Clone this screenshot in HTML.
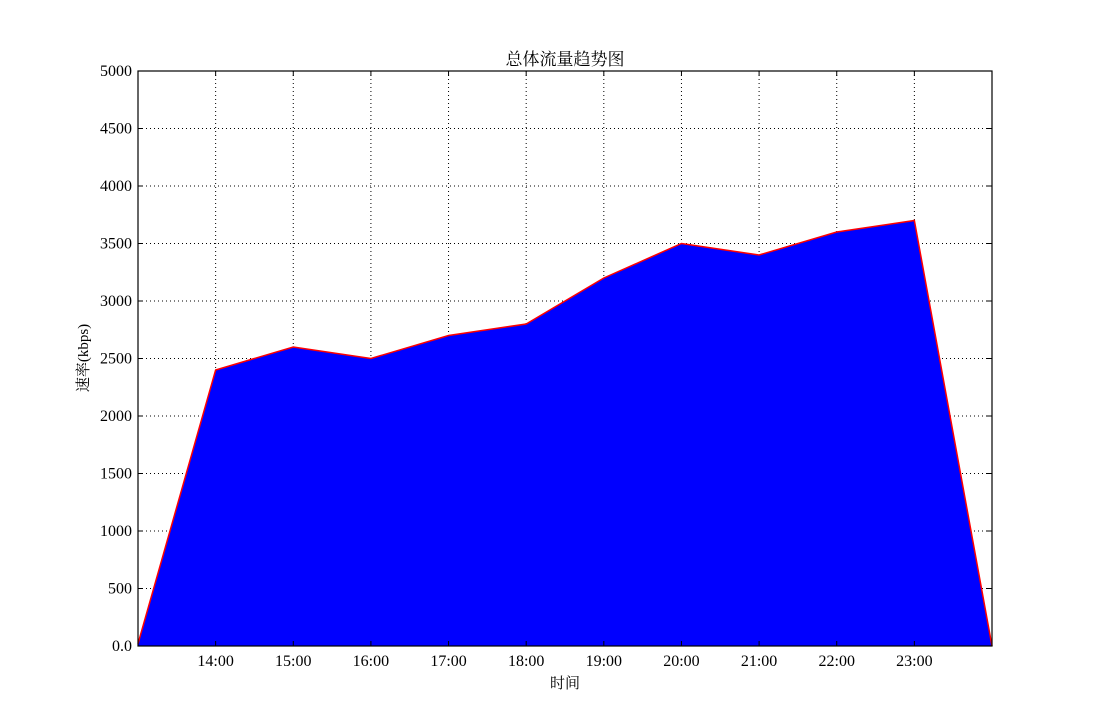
<!DOCTYPE html>
<html><head><meta charset="utf-8"><style>
html,body{margin:0;padding:0;background:#fff;}
svg{display:block;font-family:"Liberation Serif","Noto Serif CJK SC",serif;}
</style></head><body>
<svg id="chart" width="1102" height="718">
<text x="565" y="65" font-size="17" text-anchor="middle">总体流量趋势图</text>
<g id="grid"></g><g id="marks"></g><g id="ticks"></g>
<rect x="138" y="71" width="854" height="575" fill="none" stroke="#000" stroke-width="1.2"/>
<text x="565" y="688" font-size="15" text-anchor="middle">时间</text>
<text transform="translate(88,358) rotate(-90)" font-size="15" text-anchor="middle">速率(kbps)</text>
</svg>
<script>
const hours=[13,14,15,16,17,18,19,20,21,22,23,24];
const rates=[20,2400,2600,2500,2700,2800,3200,3500,3400,3600,3700,0];
const xTickHours=[14,15,16,17,18,19,20,21,22,23];
const xTickLabels=["14:00","15:00","16:00","17:00","18:00","19:00","20:00","21:00","22:00","23:00"];
const yTicks=[0,500,1000,1500,2000,2500,3000,3500,4000,4500,5000];
const yTickLabels=["0.0","500","1000","1500","2000","2500","3000","3500","4000","4500","5000"];
const X0=138,X1=992,Y0=646,Y1=71;
const sx=h=>X0+(h-13)/(24-13)*(X1-X0);
const sy=v=>Y0-v/5000*(Y0-Y1);
const NS="http://www.w3.org/2000/svg";
function mk(tag,attrs,parent){const e=document.createElementNS(NS,tag);for(const k in attrs)e.setAttribute(k,attrs[k]);parent.appendChild(e);return e;}
const grid=document.getElementById('grid'),marks=document.getElementById('marks'),ticks=document.getElementById('ticks');
yTicks.forEach((v,i)=>{
  const y=sy(v);
  if(v>0&&v<5000){const l=mk('line',{x1:X0,x2:X1,y1:y,y2:y,stroke:'#000','stroke-width':1,'stroke-dasharray':'1,3'},grid);
  
  }
  mk('line',{x1:X0,x2:X0+5,y1:y,y2:y,stroke:'#000'},ticks);
  mk('line',{x1:X1-5,x2:X1,y1:y,y2:y,stroke:'#000'},ticks);
  const t=mk('text',{x:X0-6,y:y+5,'font-size':16,'text-anchor':'end'},ticks);t.textContent=yTickLabels[i];
  
  
});
xTickHours.forEach((h,i)=>{
  const x=sx(h);
  const l=mk('line',{x1:x,x2:x,y1:Y1,y2:Y0,stroke:'#000','stroke-width':1,'stroke-dasharray':'1,3'},grid);
  
  
  mk('line',{x1:x,x2:x,y1:Y0,y2:Y0-5,stroke:'#000'},ticks);
  mk('line',{x1:x,x2:x,y1:Y1,y2:Y1+5,stroke:'#000'},ticks);
  const t=mk('text',{x:x,y:Y0+20,'font-size':16,'text-anchor':'middle'},ticks);t.textContent=xTickLabels[i];
  
  
});
const pts=hours.map((h,i)=>sx(h)+','+sy(rates[i])).join(' ');
const area=mk('polygon',{points:sx(hours[0])+','+Y0+' '+pts+' '+sx(hours[hours.length-1])+','+Y0,fill:'#0000ff'},marks);


const line=mk('polyline',{points:pts,fill:'none',stroke:'#ff0000','stroke-width':1.5},marks);


</script>
</body></html>
